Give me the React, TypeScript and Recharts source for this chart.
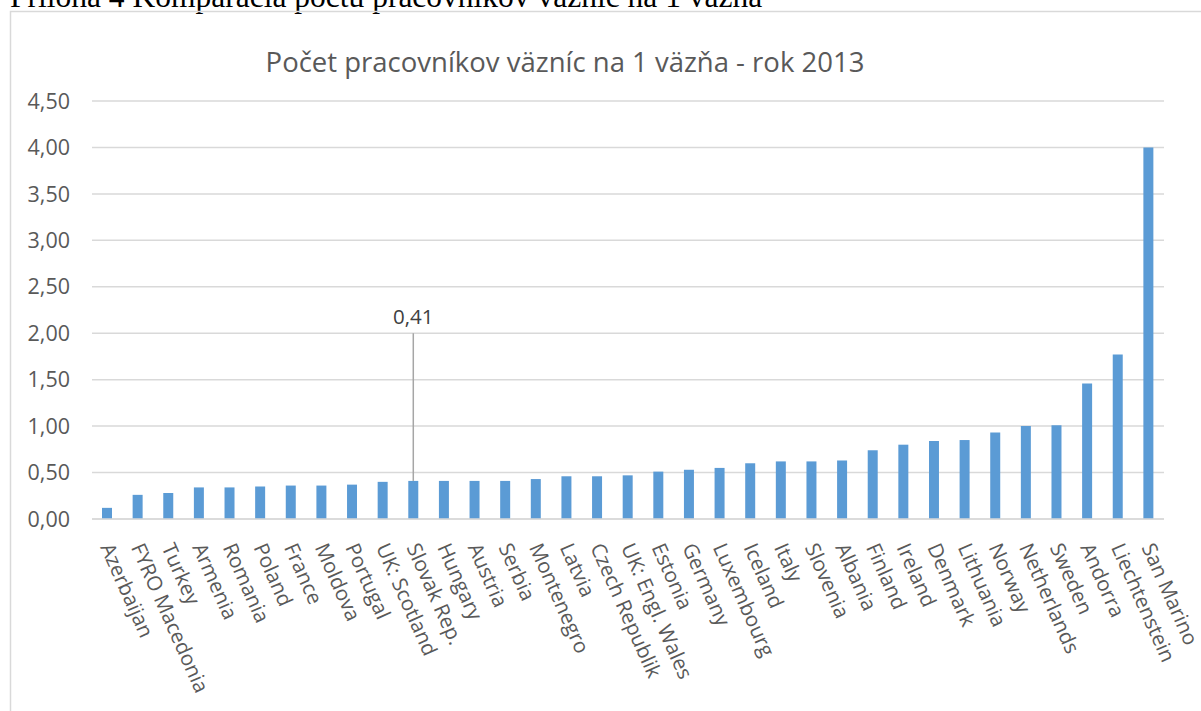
import React from 'react';
import { BarChart, Bar, XAxis, YAxis, CartesianGrid, LabelList } from 'recharts';

const categories = [
  'Azerbaijan', 'FYRO Macedonia', 'Turkey', 'Armenia', 'Romania', 'Poland', 'France',
  'Moldova', 'Portugal', 'UK: Scotland', 'Slovak Rep.', 'Hungary', 'Austria', 'Serbia',
  'Montenegro', 'Latvia', 'Czech Republik', 'UK: Engl. Wales', 'Estonia', 'Germany',
  'Luxembourg', 'Iceland', 'Italy', 'Slovenia', 'Albania', 'Finland', 'Ireland', 'Denmark',
  'Lithuania', 'Norway', 'Netherlands', 'Sweden', 'Andorra', 'Liechtenstein', 'San Marino',
];

const staffPerPrisoner = [
  0.12, 0.26, 0.28, 0.34, 0.34, 0.35, 0.36, 0.36, 0.37, 0.40, 0.41, 0.41, 0.41, 0.41,
  0.43, 0.46, 0.46, 0.47, 0.51, 0.53, 0.55, 0.60, 0.62, 0.62, 0.63, 0.74, 0.80, 0.84,
  0.85, 0.93, 1.00, 1.01, 1.46, 1.77, 4.00,
];

const yTicks = [0, 0.5, 1, 1.5, 2, 2.5, 3, 3.5, 4, 4.5];

// only one bar carries a data callout in the original, lifted up to the 2,00 line
const calloutCategory = 'Slovak Rep.';
const calloutLevel = 2.0;

const data = categories.map((name, i) => ({ name, value: staffPerPrisoner[i] }));

const FONT = '"Open Sans", sans-serif';
const fmt = (v: number) => v.toFixed(2).replace('.', ',');

const CategoryTick = ({ x, y, payload }: any) => (
  <text
    x={x}
    y={y + 23}
    transform={`rotate(66, ${x}, ${y + 23})`}
    textAnchor="start"
    dominantBaseline="central"
    fill="#595959"
    fontSize={20.5}
    fontFamily={FONT}
  >
    {payload.value}
  </text>
);

const Callout = (props: any) => {
  const { x, y, width, height, value, index } = props;
  if (categories[index] !== calloutCategory) return null;
  const cx = x + width / 2;
  const base = y + height;
  const lineTop = base - calloutLevel * (height / value);
  return (
    <g>
      <line x1={cx} x2={cx} y1={lineTop} y2={y} stroke="#a6a6a6" strokeWidth={1.5} />
      <text x={cx} y={lineTop - 9} textAnchor="middle" fill="#404040" fontSize={20.5} fontFamily={FONT}>
        {fmt(value)}
      </text>
    </g>
  );
};

export default function App() {
  return (
    <div style={{ position: 'absolute', left: 0, top: 0, width: 1201, height: 711, overflow: 'hidden', background: '#fff' }}>
      <svg width={1201} height={711} style={{ position: 'absolute', left: 0, top: 0 }}>
        <text x={10} y={7} fontFamily='"Liberation Serif", "Times New Roman", serif' fontSize={31.5} fill="#000">
          Príloha 4 Komparácia počtu pracovníkov väzníc na 1 väzňa
        </text>
        <rect x={10.5} y={11.5} width={1210} height={720} fill="none" stroke="#d9d9d9" strokeWidth={1.5} />
        <text x={565} y={72} textAnchor="middle" fontFamily={FONT} fontSize={27.5} fill="#595959">
          Počet pracovníkov väzníc na 1 väzňa - rok 2013
        </text>
      </svg>
      <div style={{ position: 'absolute', left: 0, top: 0 }}>
        <BarChart
          width={1201}
          height={711}
          data={data}
          margin={{ top: 101, right: 37, left: 0, bottom: 0 }}
          barSize={10}
        >
          <CartesianGrid vertical={false} stroke="#d9d9d9" strokeWidth={1.5} />
          <XAxis
            dataKey="name"
            interval={0}
            height={192}
            tick={<CategoryTick />}
            tickLine={false}
            tickSize={0}
            axisLine={{ stroke: '#d9d9d9', strokeWidth: 1.5 }}
          />
          <YAxis
            width={92}
            domain={[0, 4.5]}
            ticks={yTicks}
            tickFormatter={fmt}
            axisLine={false}
            tickLine={false}
            tickSize={0}
            tickMargin={22}
            tick={{ fill: '#595959', fontSize: 21.5, fontFamily: FONT }}
          />
          <Bar dataKey="value" fill="#5b9bd5" isAnimationActive={false}>
            <LabelList dataKey="value" content={<Callout />} />
          </Bar>
        </BarChart>
      </div>
    </div>
  );
}
